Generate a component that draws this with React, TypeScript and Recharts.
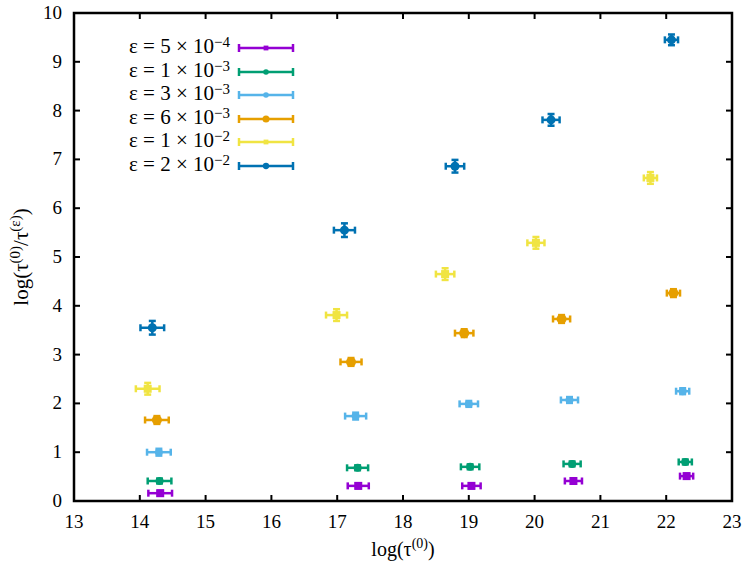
import React from 'react';
import { ScatterChart, Scatter, XAxis, YAxis, ErrorBar, ReferenceArea } from 'recharts';

const X_TICKS = [13, 14, 15, 16, 17, 18, 19, 20, 21, 22, 23];
const Y_TICKS = [0, 1, 2, 3, 4, 5, 6, 7, 8, 9, 10];

// horizontal error per column (same for every series)
const X_ERR = [0.18, 0.16, 0.14, 0.13, 0.1];

const purpleX = [14.31, 17.32, 19.04, 20.59, 22.31];
const purpleY = [0.16, 0.31, 0.31, 0.41, 0.51];
const purpleYErr = [0.05, 0.05, 0.05, 0.05, 0.05];

const greenX = [14.3, 17.31, 19.02, 20.57, 22.29];
const greenY = [0.41, 0.68, 0.7, 0.76, 0.8];
const greenYErr = [0.05, 0.05, 0.05, 0.05, 0.05];

const skyX = [14.29, 17.28, 19.0, 20.53, 22.25];
const skyY = [1.0, 1.74, 1.99, 2.07, 2.25];
const skyYErr = [0.07, 0.07, 0.06, 0.06, 0.06];

const orangeX = [14.26, 17.21, 18.93, 20.41, 22.11];
const orangeY = [1.66, 2.85, 3.44, 3.73, 4.26];
const orangeYErr = [0.08, 0.08, 0.08, 0.08, 0.08];

const yellowX = [14.12, 16.99, 18.64, 20.02, 21.76];
const yellowY = [2.3, 3.81, 4.65, 5.29, 6.62];
const yellowYErr = [0.12, 0.12, 0.12, 0.12, 0.12];

const blueX = [14.19, 17.11, 18.79, 20.25, 22.08];
const blueY = [3.55, 5.55, 6.86, 7.81, 9.45];
const blueYErr = [0.14, 0.14, 0.13, 0.12, 0.11];

const SERIES = [
  { name: 'p', exp: '5', pow: '−4', color: '#9400d3', shape: 'square', size: 4, xs: purpleX, ys: purpleY, ye: purpleYErr },
  { name: 'g', exp: '1', pow: '−3', color: '#009e73', shape: 'circle', size: 4, xs: greenX, ys: greenY, ye: greenYErr },
  { name: 's', exp: '3', pow: '−3', color: '#56b4e9', shape: 'circle', size: 4, xs: skyX, ys: skyY, ye: skyYErr },
  { name: 'o', exp: '6', pow: '−3', color: '#e69f00', shape: 'circle', size: 5, xs: orangeX, ys: orangeY, ye: orangeYErr },
  { name: 'y', exp: '1', pow: '−2', color: '#f0e442', shape: 'square', size: 4, xs: yellowX, ys: yellowY, ye: yellowYErr },
  { name: 'b', exp: '2', pow: '−2', color: '#0072b2', shape: 'circle', size: 4.5, xs: blueX, ys: blueY, ye: blueYErr },
];

const FONT = "'Liberation Serif', 'DejaVu Serif', serif";
const PLOT_TOP = 13;
const PLOT_RIGHT = 732;

const XTick = ({ x, y, payload }: any) => (
  <g>
    <line x1={x} y1={y} x2={x} y2={y - 6} stroke="#000" strokeWidth={2} />
    <line x1={x} y1={PLOT_TOP} x2={x} y2={PLOT_TOP + 6} stroke="#000" strokeWidth={2} />
    <text x={x} y={y + 27} textAnchor="middle" fontFamily={FONT} fontSize={19} fill="#000">
      {payload.value}
    </text>
  </g>
);

const YTick = ({ x, y, payload }: any) => (
  <g>
    <line x1={x} y1={y} x2={x + 6} y2={y} stroke="#000" strokeWidth={2} />
    <line x1={PLOT_RIGHT} y1={y} x2={PLOT_RIGHT - 6} y2={y} stroke="#000" strokeWidth={2} />
    <text x={x - 12} y={y + 6} textAnchor="end" fontFamily={FONT} fontSize={19} fill="#000">
      {payload.value}
    </text>
  </g>
);

const marker = (color: string, shape: string, r: number) => (props: any) => {
  const { cx, cy } = props;
  if (cx == null || cy == null) return <g />;
  return shape === 'square' ? (
    <rect x={cx - r} y={cy - r} width={2 * r} height={2 * r} fill={color} />
  ) : (
    <circle cx={cx} cy={cy} r={r} fill={color} />
  );
};

const LegendGlyph = ({ color, shape, size }: any) => (
  <svg width={60} height={14} style={{ display: 'block' }}>
    <line x1={3} y1={7} x2={57} y2={7} stroke={color} strokeWidth={2.5} />
    <line x1={3} y1={3} x2={3} y2={11} stroke={color} strokeWidth={2.5} />
    <line x1={57} y1={3} x2={57} y2={11} stroke={color} strokeWidth={2.5} />
    {shape === 'square' ? (
      <rect x={30 - size * 0.6} y={7 - size * 0.6} width={size * 1.2} height={size * 1.2} fill={color} />
    ) : (
      <circle cx={30} cy={7} r={size * 0.7} fill={color} />
    )}
  </svg>
);

export default function App() {
  return (
    <div style={{ position: 'absolute', left: 0, top: 0, width: 748, height: 565, background: '#fff' }}>
      <ScatterChart width={748} height={565} margin={{ top: PLOT_TOP, right: 748 - PLOT_RIGHT, left: 0, bottom: 0 }}>
        <XAxis
          type="number"
          dataKey="x"
          domain={[13, 23]}
          ticks={X_TICKS}
          interval={0}
          height={64}
          axisLine={false}
          tickLine={false}
          tickSize={0}
          tickMargin={0}
          tick={<XTick />}
          allowDataOverflow
          label={{
            content: () => (
              <text x={403} y={556} textAnchor="middle" fontFamily={FONT} fontSize={20} fill="#000">
                log(τ<tspan dy={-8} fontSize={14}>(0)</tspan><tspan dy={8}>)</tspan>
              </text>
            ),
          }}
        />
        <YAxis
          type="number"
          dataKey="y"
          domain={[0, 10]}
          ticks={Y_TICKS}
          interval={0}
          width={74}
          axisLine={false}
          tickLine={false}
          tickSize={0}
          tickMargin={0}
          tick={<YTick />}
          allowDataOverflow
          label={{
            content: () => (
              <text
                x={0}
                y={0}
                transform="translate(28, 257) rotate(-90)"
                textAnchor="middle"
                fontFamily={FONT}
                fontSize={21}
                fill="#000"
              >
                log(τ<tspan dy={-8} fontSize={15}>(0)</tspan>
                <tspan dy={8}>/τ</tspan>
                <tspan dy={-8} fontSize={15}>(ε)</tspan>
                <tspan dy={8}>)</tspan>
              </text>
            ),
          }}
        />
        <ReferenceArea x1={13} x2={23} y1={0} y2={10} fill="none" stroke="#000" strokeWidth={2.5} ifOverflow="visible" />
        {SERIES.map((s) => {
          const data = s.xs.map((x, i) => ({ x, y: s.ys[i], xErr: X_ERR[i], yErr: s.ye[i] }));
          return (
            <Scatter
              key={s.name}
              data={data}
              fill={s.color}
              isAnimationActive={false}
              shape={marker(s.color, s.shape, s.size)}
            >
              <ErrorBar dataKey="xErr" direction="x" width={3.5} stroke={s.color} strokeWidth={2.5} />
              <ErrorBar dataKey="yErr" direction="y" width={3.5} stroke={s.color} strokeWidth={2.5} />
            </Scatter>
          );
        })}
      </ScatterChart>
      <div style={{ position: 'absolute', left: 0, top: 36 }}>
        {SERIES.map((s) => (
          <div key={s.name} style={{ position: 'relative', height: 23.5, width: 300 }}>
            <div
              style={{
                position: 'absolute',
                left: 0,
                top: -1,
                width: 230,
                textAlign: 'right',
                fontFamily: FONT,
                fontSize: 21,
                lineHeight: '23px',
                whiteSpace: 'nowrap',
              }}
            >
              ε = {s.exp} × 10<sup style={{ fontSize: 15, verticalAlign: 6, lineHeight: 0 }}>{s.pow}</sup>
            </div>
            <div style={{ position: 'absolute', left: 236, top: 5 }}>
              <LegendGlyph color={s.color} shape={s.shape} size={s.size} />
            </div>
          </div>
        ))}
      </div>
    </div>
  );
}
